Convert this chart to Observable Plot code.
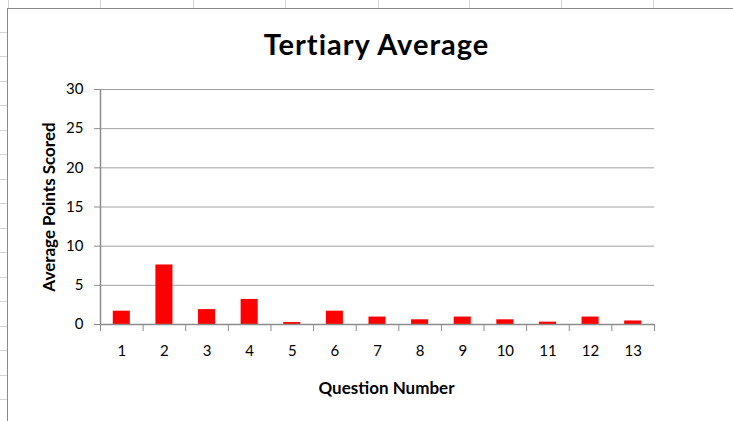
<!DOCTYPE html>
<html>
<head>
<meta charset="utf-8">
<script src="https://cdn.jsdelivr.net/npm/d3@7"></script>
<script src="https://cdn.jsdelivr.net/npm/@observablehq/plot@0.6"></script>
<style>
  html, body { margin: 0; padding: 0; background: #fff; }
  #page { position: relative; width: 733px; height: 421px; overflow: hidden; background: #fff; }
  .cellv { position: absolute; top: 0; width: 1px; height: 8px; background: #d4d4d4; }
  .cellh { position: absolute; left: 0; width: 7px; height: 1px; background: #d4d4d4; }
  #chart { position: absolute; left: 7px; top: 8px; width: 726px; height: 413px; background: #fff;
           border-left: 1px solid #8a8a8a; border-top: 1px solid #8a8a8a; }
  #title { position: absolute; top: 20px; left: 92px; width: 553px; text-align: center;
           font-family: Lato, "Open Sans", sans-serif; font-weight: bold; font-size: 29px; line-height: 29px;
           letter-spacing: 1px; color: #000; }
  #plot { position: absolute; left: 0; top: 0; }
  g[aria-label="y-axis label"] text { font-weight: bold; font-size: 17px; }
  g[aria-label="y-axis tick label"] text, g[aria-label="x-axis tick label"] text { font-size: 15px; }
</style>
</head>
<body>
<div id="page">
  <div id="chart">
    <div id="plot"></div>
    <div id="title"></div>
  </div>
</div>
<script>
// ---- data ----
const chartTitle = "Tertiary Average";
const yTitle = "Average Points Scored";
const xTitle = "Question Number";
const questions = [1, 2, 3, 4, 5, 6, 7, 8, 9, 10, 11, 12, 13];
const averages = [1.7, 7.6, 1.9, 3.2, 0.25, 1.7, 0.95, 0.6, 0.95, 0.6, 0.3, 0.95, 0.45];
const yTicks = [0, 5, 10, 15, 20, 25, 30];
const categoryEdges = [0.5, 1.5, 2.5, 3.5, 4.5, 5.5, 6.5, 7.5, 8.5, 9.5, 10.5, 11.5, 12.5, 13.5];

// ---- spreadsheet background ----
const page = document.getElementById("page");
[8, 100, 193, 285, 378, 469, 561, 653].forEach(x => {
  const d = document.createElement("div"); d.className = "cellv"; d.style.left = x + "px"; page.appendChild(d);
});
for (let k = 1; k < 17; k++) {
  const d = document.createElement("div"); d.className = "cellh";
  d.style.top = Math.round(7.2 + 24.5 * k) + "px"; page.appendChild(d);
}

document.getElementById("title").textContent = chartTitle;

const data = questions.map((q, i) => ({q, v: averages[i]}));
const axisGray = "#8c8c8c";

const chart = Plot.plot({
  width: 726,
  height: 413,
  marginLeft: 92,
  marginRight: 80,
  marginTop: 80,
  marginBottom: 98,
  style: {fontFamily: "Lato, 'Open Sans', sans-serif", fontSize: "15px", color: "#000", background: "transparent", overflow: "visible"},
  x: {domain: [0.5, 13.5]},
  y: {domain: [0, 30]},
  marks: [
    Plot.gridY(yTicks, {stroke: "#a0a0a0", strokeOpacity: 1}),
    Plot.rectY(data, {x1: d => d.q - 0.2, x2: d => d.q + 0.2, y: "v", fill: "#ff0000"}),
    Plot.ruleY([0], {stroke: axisGray, strokeWidth: 1.5}),
    Plot.ruleX([0.5], {stroke: axisGray, strokeWidth: 1.5}),
    Plot.axisY(yTicks, {tickSize: 6, tickPadding: 11, stroke: axisGray, label: yTitle, labelAnchor: "center", labelArrow: "none", labelOffset: 58}),
    Plot.axisX(categoryEdges, {tickSize: 7, tickFormat: () => "", stroke: axisGray, label: null}),
    Plot.axisX(questions, {tickSize: 0, tickPadding: 21, label: null}),
    Plot.text([xTitle], {frameAnchor: "bottom", dx: 9, dy: 64, lineAnchor: "middle", fontWeight: "bold", fontSize: 17, fill: "#000"})
  ]
});
document.getElementById("plot").appendChild(chart);
</script>
</body>
</html>
